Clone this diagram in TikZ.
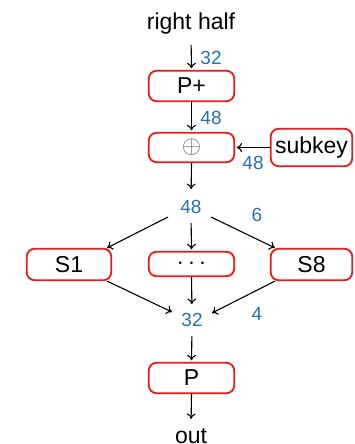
\documentclass[tikz,border=0pt]{standalone}
\usepackage{fontspec}
\setmainfont{Liberation Sans}
\usetikzlibrary{arrows.meta,calc}
\definecolor{boxred}{RGB}{240,24,24}
\definecolor{numblue}{RGB}{35,115,170}
\begin{document}
\begin{tikzpicture}[x=1pt,y=-1pt,
 blk/.style={draw=boxred, line width=1.8pt, rounded corners=8pt, minimum width=85.5pt, minimum height=30.5pt, inner sep=0pt, font=\fontsize{23}{26}\selectfont},
 lbl/.style={font=\fontsize{23}{26}\selectfont, inner sep=0pt},
 num/.style={text=numblue, font=\fontsize{19}{22}\selectfont, inner sep=0pt},
 arr/.style={-{To[length=5.5pt,width=9pt]}, line width=1.1pt}
]
\useasboundingbox (0,0) rectangle (354,444);
% text nodes
\node[lbl, anchor=base] (rh) at (191,30) {right half};
\node[lbl, anchor=base] (out) at (191,443) {out};
\node[num] (n48) at (191,207) {48};
\node[num] (n32) at (192,320) {32};
% boxes
\node[blk] (pplus) at (191.5,86) {P+};
\node[blk, minimum height=29.5pt] (xor) at (191.5,147.5) {\color[gray]{0.4}$\oplus$};
\node[blk, minimum width=81.5pt, minimum height=37.5pt] (subkey) at (311.5,147.5) {subkey};
\node[blk, minimum width=84.5pt, minimum height=31.5pt] (s1) at (69,264.5) {S1};
\node[blk, minimum height=24.5pt] (dots) at (191.5,264) {$\cdots$};
\node[blk, minimum width=81.5pt, minimum height=31.5pt] (s8) at (311.5,264.5) {S8};
\node[blk] (p) at (191.5,378) {P};
% connectors
\draw[arr, shorten <=10pt, shorten >=1.5pt] (rh.south) -- (pplus.north);
\draw[arr, shorten >=1.5pt] (pplus.south) -- (xor.north);
\draw[arr, shorten >=1.5pt] (subkey.west) -- (xor.east);
\draw[arr, shorten >=11pt] (xor.south) -- (n48.north);
\draw[arr] ($(n48)+(-23,10)$) -- ([xshift=-5pt]s1.north east);
\draw[arr, shorten <=9pt, shorten >=1.5pt] (n48.south) -- (dots.north);
\draw[arr] ($(n48)+(20,10)$) -- ([xshift=5pt]s8.north west);
\draw[arr] ([xshift=-5pt]s1.south east) -- ($(n32)+(-20,-8)$);
\draw[arr, shorten >=9pt] (dots.south) -- (n32.north);
\draw[arr] ([xshift=5pt]s8.south west) -- ($(n32)+(20,-7)$);
\draw[arr, shorten <=9pt, shorten >=1.5pt] (n32.south) -- (p.north);
\draw[arr, shorten >=9pt] (p.south) -- (out.north);
% labels
\node[num] (l32) at (211,58) {32};
\node[num] (l48a) at (211,118) {48};
\node[num] (l48b) at (253,163) {48};
\node[num] (l6) at (257,215) {6};
\node[num] (l4) at (257,314) {4};
\end{tikzpicture}
\end{document}
